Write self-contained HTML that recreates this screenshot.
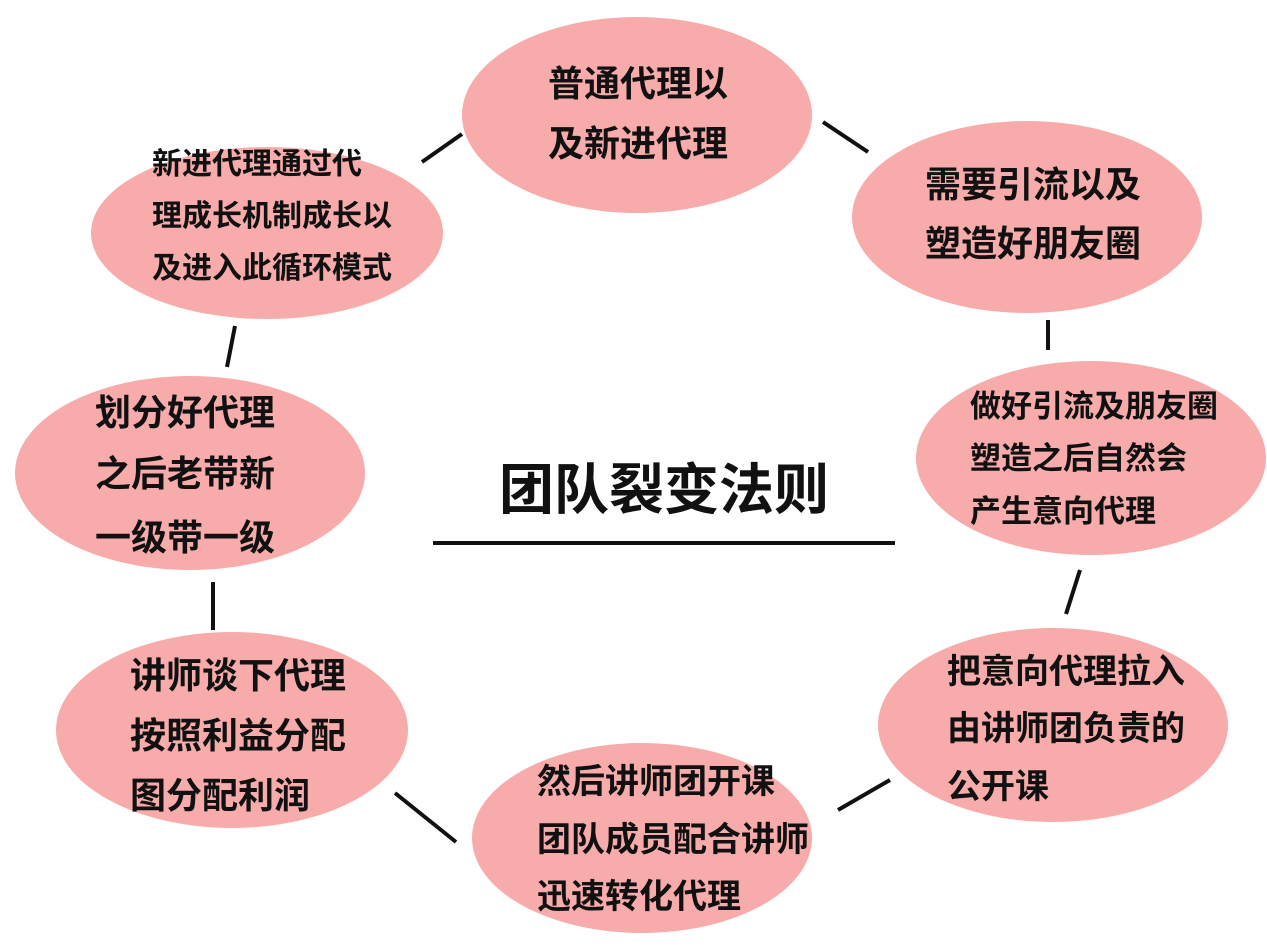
<!DOCTYPE html>
<html><head><meta charset="utf-8"><style>
body{margin:0;background:#fff;}
.c{position:absolute;left:0;top:0;}
</style></head><body>
<svg class="c" width="1267" height="951" viewBox="0 0 1267 951" xmlns="http://www.w3.org/2000/svg">
<g fill="#f7abaa">
<ellipse cx="637" cy="115" rx="175" ry="98"/>
<ellipse cx="267" cy="233" rx="176" ry="86"/>
<ellipse cx="1027" cy="217" rx="175" ry="96"/>
<ellipse cx="1091" cy="458" rx="175" ry="97"/>
<ellipse cx="190" cy="473" rx="175" ry="97"/>
<ellipse cx="1053" cy="725" rx="175" ry="97"/>
<ellipse cx="232" cy="730" rx="176" ry="98"/>
<ellipse cx="642" cy="838" rx="170" ry="95"/>
</g>
<g stroke="#111" stroke-width="4">
<line x1="422" y1="162" x2="462" y2="134"/>
<line x1="823" y1="122" x2="868" y2="152"/>
<line x1="1048" y1="320" x2="1048" y2="350"/>
<line x1="1080" y1="570" x2="1066" y2="614"/>
<line x1="890" y1="780" x2="838" y2="810"/>
<line x1="395" y1="793" x2="456" y2="842"/>
<line x1="213" y1="582" x2="213" y2="630"/>
<line x1="235" y1="326" x2="227" y2="367"/>
<line x1="433" y1="543" x2="895" y2="543"/>
</g>
<g font-family="'Liberation Sans','Noto Sans CJK SC',sans-serif" fill="#111" font-weight="bold">
<text x="664" y="509" font-size="55" text-anchor="middle">团队裂变法则</text>
<g font-size="36"><text x="548" y="96">普通代理以</text><text x="548" y="156">及新进代理</text></g>
<g font-size="30"><text x="152" y="174">新进代理通过代</text><text x="152" y="226">理成长机制成长以</text><text x="152" y="278">及进入此循环模式</text></g>
<g font-size="36"><text x="925" y="197">需要引流以及</text><text x="925" y="256">塑造好朋友圈</text></g>
<g font-size="31"><text x="970" y="417">做好引流及朋友圈</text><text x="970" y="469">塑造之后自然会</text><text x="970" y="522">产生意向代理</text></g>
<g font-size="36"><text x="95" y="425">划分好代理</text><text x="95" y="486">之后老带新</text><text x="95" y="550">一级带一级</text></g>
<g font-size="34"><text x="947" y="683">把意向代理拉入</text><text x="947" y="740">由讲师团负责的</text><text x="947" y="798">公开课</text></g>
<g font-size="36"><text x="130" y="688">讲师谈下代理</text><text x="130" y="748">按照利益分配</text><text x="130" y="808">图分配利润</text></g>
<g font-size="34"><text x="537" y="793">然后讲师团开课</text><text x="537" y="851">团队成员配合讲师</text><text x="537" y="908">迅速转化代理</text></g>
</g>
</svg>
</body></html>
